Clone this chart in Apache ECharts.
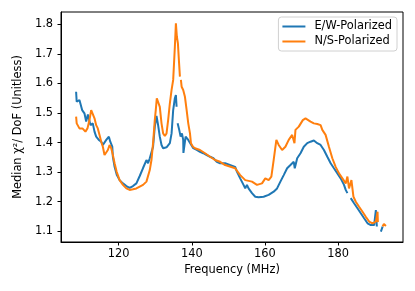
<!DOCTYPE html>
<html>
<head>
<meta charset="utf-8">
<script src="https://cdn.jsdelivr.net/npm/echarts@6/dist/echarts.min.js"></script>
<style>html,body{margin:0;padding:0;background:#fff}#c{width:415px;height:291px}</style>
</head>
<body>
<div id="c"></div>
<script>
// E/W-Polarized (null = gap in the line)
var ewFreq = [108.38,108.54,109.29,110.03,110.66,111.13,111.6,112.31,112.94,113.41,113.87,114.59,115.25,115.69,116.62,117.34,117.72,118.27,118.43,118.9,119.53,120.27,121.18,122.12,123.02,123.93,124.86,125.77,126.68,127.61,128.05,128.52,128.98,129.42,129.89,130.36,130.8,131.26,131.73,132.17,133.1,134.01,134.48,134.92,135.38,135.66,135.85,136.0,136.13,136.57,136.95,137.31,137.66,137.72,138.32,139.04,139.51,140.41,141.35,142.25,143.16,144.09,145.0,145.91,146.84,147.75,149.12,151.87,152.34,153.24,154.15,154.62,155.08,155.52,156.46,157.36,158.27,159.64,161.02,162.39,163.32,164.23,165.14,166.07,166.98,167.88,168.16,168.82,169.73,170.63,171.57,172.47,173.38,174.31,175.22,176.13,177.06,177.97,178.87,179.81,180.71,181.62,182.09,182.55,183.0,183.46,184.37,185.3,186.21,187.12,188.05,188.96,189.86,190.33,190.6,191.2,191.7,192.17];
var ewVal  = [1.572,1.538,1.544,1.51,1.499,1.471,1.495,1.459,1.465,1.437,1.42,1.409,1.403,1.392,1.409,1.42,1.403,1.386,1.352,1.318,1.29,1.273,1.262,1.253,1.247,1.253,1.262,1.287,1.314,1.341,1.33,1.347,1.352,1.386,1.454,1.49,1.459,1.42,1.392,1.381,1.384,1.398,1.431,1.51,1.55,1.561,1.521,null,1.465,1.443,1.42,1.431,1.409,1.365,1.42,1.409,1.403,1.381,1.375,1.369,1.364,1.358,1.352,1.347,1.335,1.33,1.33,1.318,1.302,1.279,1.257,1.245,1.257,1.245,1.229,1.217,1.215,1.217,1.223,1.234,1.245,1.268,1.29,1.313,1.324,1.335,1.313,1.347,1.364,1.386,1.398,1.403,1.407,1.398,1.392,1.375,1.352,1.33,1.313,1.296,1.279,1.257,1.24,1.229,null,1.212,1.195,1.178,1.161,1.144,1.127,1.121,1.121,1.172,1.116,null,1.099,1.116];
// N/S-Polarized
var nsFreq = [108.38,108.54,109.29,110.11,110.93,111.48,112.03,112.5,112.94,113.41,113.87,114.31,114.78,115.25,115.69,116.15,116.62,117.06,117.53,117.99,118.43,118.9,119.45,120.27,121.18,122.12,123.02,123.93,124.86,125.77,126.68,127.61,128.52,128.98,129.42,129.89,130.16,130.44,130.8,131.26,131.73,132.17,132.64,133.1,133.54,134.01,134.48,134.92,135.38,135.66,135.93,136.21,136.48,136.76,136.9,137.03,137.23,137.66,138.13,138.6,139.04,139.51,139.78,140.33,140.88,142.25,143.63,145.0,146.37,147.75,149.12,151.87,153.24,154.62,156.46,157.83,158.27,159.2,160.11,161.02,161.76,162.39,163.13,163.76,164.7,165.6,166.51,167.45,167.94,168.08,168.35,169.26,170.36,171.1,171.57,172.47,173.38,174.31,175.22,175.69,176.59,177.5,178.43,179.34,180.25,181.18,182.09,182.55,182.99,183.65,184.2,184.84,185.74,186.68,187.58,188.49,189.42,190.33,190.79,190.88,191.5,192.17,192.53,193.08];
var nsVal  = [1.488,1.465,1.448,1.448,1.437,1.448,1.476,1.51,1.51,1.482,1.459,1.448,1.426,1.403,1.386,1.358,1.364,1.375,1.392,1.381,1.358,1.33,1.302,1.273,1.257,1.245,1.24,1.242,1.245,1.251,1.257,1.268,1.307,1.341,1.398,1.476,1.51,1.55,1.553,1.521,1.465,1.431,1.422,1.431,1.476,1.533,1.578,1.612,1.724,1.803,1.758,1.736,1.679,1.623,null,1.612,1.589,1.578,1.555,1.51,1.465,1.431,1.398,1.386,1.381,1.375,1.364,1.352,1.341,1.335,1.324,1.313,1.29,1.273,1.268,1.257,1.251,1.262,1.279,1.273,1.285,1.341,1.409,1.392,1.375,1.386,1.409,1.426,1.432,1.398,1.443,1.454,1.476,1.482,1.476,1.471,1.465,1.463,1.459,1.443,1.426,1.386,1.347,1.318,1.296,1.279,1.262,1.285,1.245,1.273,1.217,1.2,1.183,1.166,1.149,1.133,1.127,1.133,1.166,1.131,null,1.116,1.125,1.118];
var xTicks = [120,140,160,180];
var yTicks = [1.1,1.2,1.3,1.4,1.5,1.6,1.7,1.8];
var names = ['E/W-Polarized','N/S-Polarized'];

function pairs(f, v){ return f.map(function(x,i){ return [x, v[i]===null ? '-' : v[i]]; }); }

var chart = echarts.init(document.getElementById('c'), null, {renderer:'canvas'});
var font = 'DejaVu Sans';
var fs = 11.4;
chart.setOption({
  animation:false,
  backgroundColor:'#fff',
  grid:{left:61, top:12, right:12, bottom:49, show:true, borderColor:'#000', borderWidth:1, backgroundColor:'transparent'},
  legend:{
    data:names, orient:'vertical', right:18, top:17,
    itemWidth:23, itemHeight:2, icon:'rect', itemGap:4,
    padding:[4,5,4,4],
    borderColor:'#d0d0d0', borderWidth:1, borderRadius:3, backgroundColor:'rgba(255,255,255,0.8)',
    textStyle:{fontFamily:font, fontSize:fs, color:'#000', padding:[0,0,0,4]}
  },
  xAxis:{
    type:'value', min:104.25, max:197.75,
    name:'Frequency (MHz)', nameLocation:'middle', nameGap:23,
    nameTextStyle:{fontFamily:font, fontSize:fs, color:'#000'},
    axisLine:{show:true, lineStyle:{color:'#000', width:1}},
    axisTick:{show:true, inside:false, length:3.5, customValues:xTicks, lineStyle:{color:'#000'}},
    axisLabel:{fontFamily:font, fontSize:fs, color:'#000', margin:7, customValues:xTicks},
    splitLine:{show:false}
  },
  yAxis:{
    type:'value', min:1.0638, max:1.8416,
    name:'Median \u03C7\u00B2/ DoF (Unitless)', nameLocation:'middle', nameGap:34, nameRotate:90,
    nameTextStyle:{fontFamily:font, fontSize:fs, color:'#000'},
    axisLine:{show:true, lineStyle:{color:'#000', width:1}},
    axisTick:{show:true, inside:false, length:3.5, customValues:yTicks, lineStyle:{color:'#000'}},
    axisLabel:{fontFamily:font, fontSize:fs, color:'#000', margin:8, customValues:yTicks, formatter:function(v){return v.toFixed(1);}},
    splitLine:{show:false}
  },
  series:[
    {name:names[0], type:'line', data:pairs(ewFreq, ewVal), showSymbol:false, connectNulls:false, lineStyle:{color:'#1f77b4', width:2}, itemStyle:{color:'#1f77b4'}},
    {name:names[1], type:'line', data:pairs(nsFreq, nsVal), showSymbol:false, connectNulls:false, lineStyle:{color:'#ff7f0e', width:2}, itemStyle:{color:'#ff7f0e'}}
  ]
});
</script>
</body>
</html>
